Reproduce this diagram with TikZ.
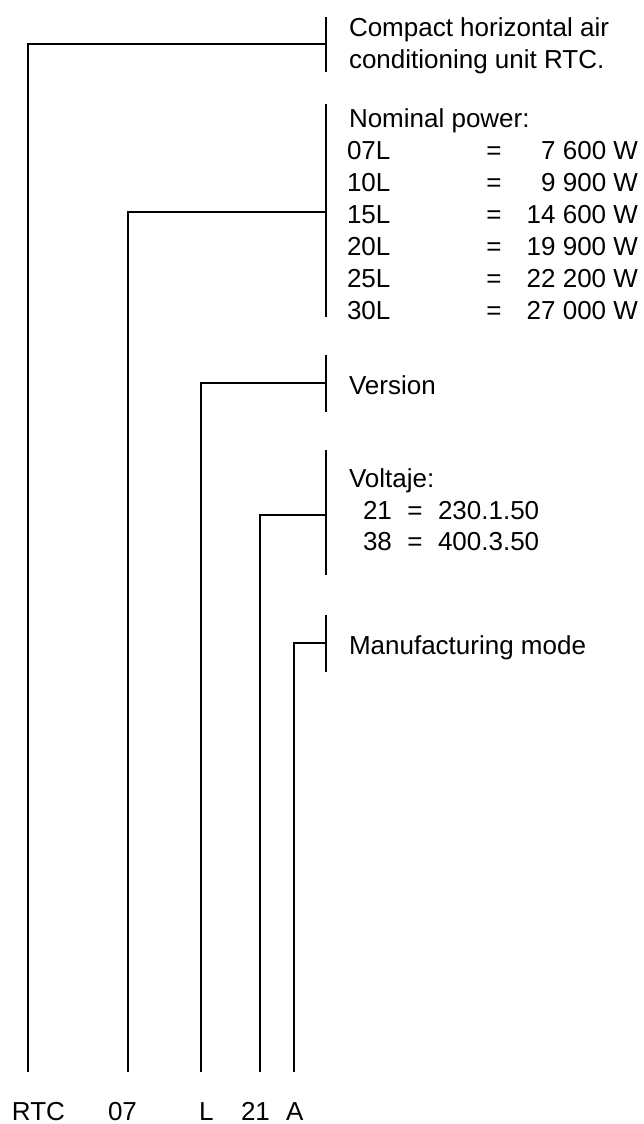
\documentclass[tikz,border=0pt]{standalone}
\usepackage{fontspec}
\setmainfont{Liberation Sans}
\begin{document}
\begin{tikzpicture}[x=1pt,y=-1pt,
  ln/.style={line width=1.1pt, black},
  txt/.style={inner sep=0pt, outer sep=0pt, anchor=base west, font=\fontsize{26}{32}\selectfont},
  txr/.style={txt, anchor=base east},
  txc/.style={txt, anchor=base}]
\useasboundingbox (0,0) rectangle (644,1124);

% brackets (bars on the right)
\coordinate (b1t) at (326,17);  \coordinate (b1b) at (326,72);  \coordinate (j1) at (326,44);
\coordinate (b2t) at (326,104); \coordinate (b2b) at (326,317); \coordinate (j2) at (326,212);
\coordinate (b3t) at (326,355); \coordinate (b3b) at (326,412); \coordinate (j3) at (326,383);
\coordinate (b4t) at (326,450); \coordinate (b4b) at (326,575); \coordinate (j4) at (326,515);
\coordinate (b5t) at (326,615); \coordinate (b5b) at (326,672); \coordinate (j5) at (326,643);
\foreach \i in {1,...,5} { \draw[ln] (b\i t) -- (b\i b); }

% code ends of the leader lines
\coordinate (kRTC) at (28,1072);
\coordinate (k07)  at (128,1072);
\coordinate (kL)   at (201,1072);
\coordinate (k21)  at (260,1072);
\coordinate (kA)   at (294,1072);

\draw[ln] (kRTC) |- (j1);
\draw[ln] (k07)  |- (j2);
\draw[ln] (kL)   |- (j3);
\draw[ln] (k21)  |- (j4);
\draw[ln] (kA)   |- (j5);

% code labels
\node[txt] (cRTC) at (12,1120) {RTC};
\node[txt] (c07)  at (108,1120) {07};
\node[txt] (cL)   at (199,1120) {L};
\node[txt] (c21)  at (241,1120) {21};
\node[txt] (cA)   at (286,1120) {A};

% descriptions
\node[txt] (d1a) at (349,37) {Compact horizontal air};
\node[txt] (d1b) at (349,69) {conditioning unit RTC.};

\node[txt] (d2) at (349,127) {Nominal power:};
\foreach \c/\v [count=\n from 0] in {07L/7 600 W,10L/9 900 W,15L/14 600 W,20L/19 900 W,25L/22 200 W,30L/27 000 W}{
  \node[txt] (p\n c) at (347,{159.5+32*\n}) {\c};
  \node[txc] (p\n e) at (494,{159.5+32*\n}) {=};
  \node[txr] (p\n v) at (638,{159.5+32*\n}) {\v};
}

\node[txt] (d3) at (349,394) {Version};

\node[txt] (d4) at (349,487) {Voltaje:};
\node[txt] (v1c) at (363,519) {21};
\node[txc] (v1e) at (415,519) {=};
\node[txt] (v1v) at (438,519) {230.1.50};
\node[txt] (v2c) at (363,550) {38};
\node[txc] (v2e) at (415,550) {=};
\node[txt] (v2v) at (438,550) {400.3.50};

\node[txt] (d5) at (349,654) {Manufacturing mode};
\end{tikzpicture}
\end{document}
